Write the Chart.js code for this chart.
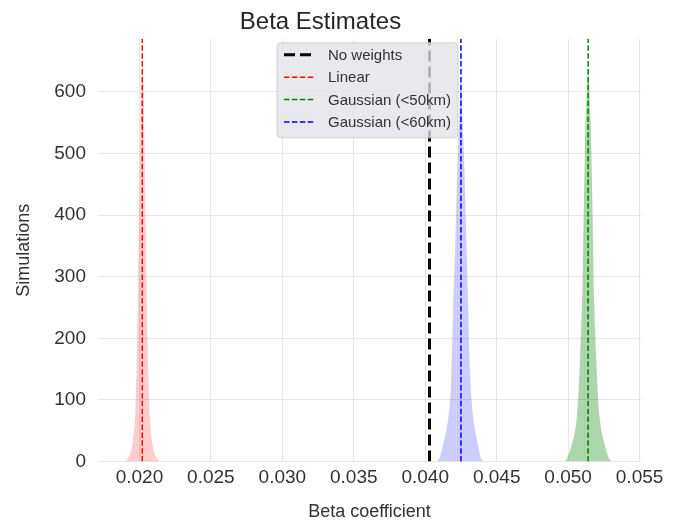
<!DOCTYPE html>
<html>
<head>
<meta charset="utf-8">
<script src="https://cdn.jsdelivr.net/npm/chart.js@4/dist/chart.umd.min.js"></script>
<style>
  html, body { margin: 0; padding: 0; background: #fff; }
</style>
</head>
<body>
<canvas id="betaChart" width="681" height="524"></canvas>
<script>
// histogram bins: first bin centre + width, counts
const binWidth = 0.0001;

const linearStart = 0.0189;
const linearCounts = [0, 1, 2, 5, 9, 16, 27, 44, 72, 150, 265, 435, 585, 652,
  595, 450, 280, 160, 80, 47, 29, 18, 10, 6, 3, 1, 0];

const gauss60Start = 0.0408;
const gauss60Counts = [0, 2, 6, 13, 22, 32, 42, 54, 68, 88, 120, 200, 290, 350, 440, 510, 570,
  620, 565, 505, 430, 345, 255, 160, 112, 82, 64, 50, 38, 26, 14, 5, 1, 0];

const gauss50Start = 0.0497;
const gauss50Counts = [0, 1, 4, 9, 15, 23, 31, 40, 52, 70, 100, 150, 210, 280, 420, 540, 600,
  645, 595, 535, 415, 275, 205, 148, 98, 72, 54, 42, 33, 24, 15, 8, 3, 1, 0];

// mean estimates (vertical lines)
const lineLabels = ["No weights", "Linear", "Gaussian (<50km)", "Gaussian (<60km)"];
const lineValues = [0.0403, 0.0202, 0.0514, 0.0425];
const lineColors = ["#000000", "#ff0000", "#008000", "#0000ff"];

const xTicks = [0.020, 0.025, 0.030, 0.035, 0.040, 0.045, 0.050, 0.055];
const xMin = 0.0171, xMax = 0.0551;
const yMax = 686;

const fontFamily = "'Liberation Sans', Arial, Helvetica, sans-serif";
Chart.defaults.font.family = fontFamily;

function bins(start, counts) {
  return counts.map((c, i) => ({ x: start + i * binWidth, y: c }));
}

const lineSets = lineLabels.map((label, i) => ({
  label: label,
  inLegend: true,
  data: [{ x: lineValues[i], y: 0 }, { x: lineValues[i], y: yMax }],
  borderColor: lineColors[i],
  borderWidth: i === 0 ? 3 : 1.5,
  borderDash: i === 0 ? [11, 5] : [5.5, 2.4],
  pointRadius: 0,
  fill: false,
  order: 0
}));

const histSets = [
  { data: bins(linearStart, linearCounts), backgroundColor: "rgba(255,0,0,0.2)" },
  { data: bins(gauss50Start, gauss50Counts), backgroundColor: "rgba(0,128,0,0.32)" },
  { data: bins(gauss60Start, gauss60Counts), backgroundColor: "rgba(0,0,255,0.2)" }
].map(d => ({
  label: "",
  data: d.data,
  backgroundColor: d.backgroundColor,
  borderWidth: 0,
  pointRadius: 0,
  fill: "origin",
  order: 1
}));

const legendBox = {
  id: "legendBox",
  afterDraw(chart) {
    const ctx = chart.ctx;
    const area = chart.chartArea;
    const items = chart.data.datasets.filter(d => d.inLegend);
    ctx.save();
    ctx.font = "15px " + fontFamily;
    const textW = Math.max(...items.map(d => ctx.measureText(d.label).width));
    const w = 7 + 30 + 14 + textW + 7;
    const h = 95;
    const left = (area.left + area.right) / 2 - w / 2 - 2;
    const top = area.top + 4;

    ctx.beginPath();
    ctx.roundRect(left, top, w, h, 4);
    ctx.fillStyle = "rgba(228,228,233,0.8)";
    ctx.fill();
    ctx.strokeStyle = "rgba(205,205,210,0.9)";
    ctx.lineWidth = 1;
    ctx.stroke();

    items.forEach((d, i) => {
      const y = top + 12 + i * 22.4;
      ctx.beginPath();
      ctx.setLineDash(d.borderDash);
      ctx.lineWidth = d.borderWidth;
      ctx.strokeStyle = d.borderColor;
      ctx.moveTo(left + 7, y);
      ctx.lineTo(left + 37, y);
      ctx.stroke();
      ctx.setLineDash([]);
      ctx.fillStyle = "#333333";
      ctx.textBaseline = "middle";
      ctx.textAlign = "left";
      ctx.fillText(d.label, left + 51, y + 1);
    });
    ctx.restore();
  }
};

new Chart(document.getElementById("betaChart"), {
  type: "line",
  data: { datasets: [...lineSets, ...histSets] },
  plugins: [legendBox],
  options: {
    responsive: false,
    animation: false,
    events: [],
    layout: { padding: { left: 0, right: 40, top: 0, bottom: 0 } },
    plugins: {
      legend: { display: false },
      tooltip: { enabled: false },
      title: {
        display: true,
        text: "Beta Estimates",
        color: "#262626",
        font: { size: 24, weight: "normal" },
        padding: { top: 8, bottom: 2 }
      }
    },
    scales: {
      x: {
        type: "linear",
        min: xMin,
        max: xMax,
        border: { display: false },
        grid: { color: "#e6e6e6", lineWidth: 1, drawTicks: false },
        afterBuildTicks: scale => { scale.ticks = xTicks.map(v => ({ value: v })); },
        ticks: {
          color: "#333333",
          font: { size: 19 },
          padding: 5,
          maxRotation: 0,
          callback: v => Number(v).toFixed(3)
        },
        title: {
          display: true,
          text: "Beta coefficient",
          color: "#333333",
          font: { size: 18 },
          padding: { top: 0, bottom: 1 }
        },
        afterFit: scale => { scale.height = 62.4; }
      },
      y: {
        min: 0,
        max: yMax,
        border: { display: false },
        grid: { color: "#e6e6e6", lineWidth: 1, drawTicks: false },
        ticks: {
          stepSize: 100,
          includeBounds: false,
          color: "#333333",
          font: { size: 19 },
          padding: 12
        },
        title: {
          display: true,
          text: "Simulations",
          color: "#333333",
          font: { size: 18 },
          padding: { top: 13, bottom: 0 }
        },
        afterFit: scale => { scale.width = 98; }
      }
    }
  }
});
</script>
</body>
</html>
